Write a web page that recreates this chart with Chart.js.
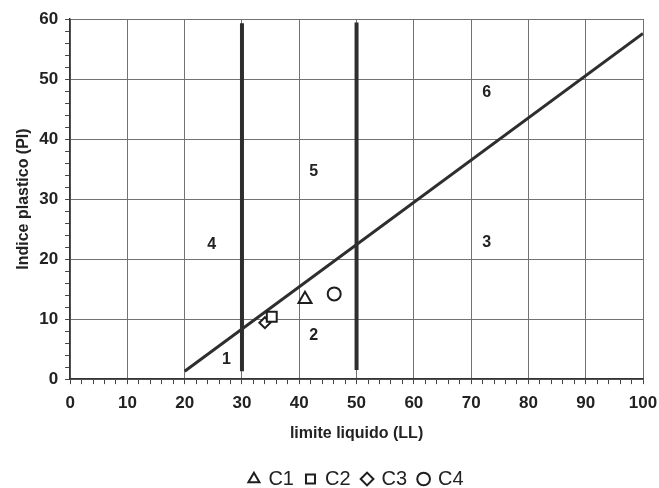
<!DOCTYPE html>
<html><head><meta charset="utf-8">
<script src="https://cdn.jsdelivr.net/npm/chart.js@4.4.0/dist/chart.umd.min.js"></script>
<style>html,body{margin:0;padding:0;background:#fff;}</style>
</head><body>
<canvas id="c" width="659" height="488"></canvas>
<script>
// ---- data ----
const seriesNames = ['C1', 'C2', 'C3', 'C4'];
const seriesLL = [41.0, 35.2, 34.0, 46.1];
const seriesPI = [13.3, 10.4, 9.4, 14.2];
const seriesMarkers = ['triangle', 'rect', 'rectRot', 'circle'];
const seriesRadius = [7.5, 7, 5.5, 6.5];

const aLineLL = [20, 100];
const aLinePI = [1.3, 57.6];
const limit30LL = [30, 30];
const limit30PI = [1.3, 59.3];
const limit50LL = [50, 50];
const limit50PI = [1.5, 59.4];

const zoneLabels = ['1', '2', '3', '4', '5', '6'];
const zoneLL = [27.3, 42.5, 72.7, 24.7, 42.5, 72.7];
const zonePI = [3.2, 7.3, 22.7, 22.4, 34.6, 47.7];

const xTickLabels = [0, 10, 20, 30, 40, 50, 60, 70, 80, 90, 100];
const yTickLabels = [0, 10, 20, 30, 40, 50, 60];

const FONT = "'Liberation Sans', Arial, sans-serif";
Chart.defaults.font.family = FONT;
Chart.defaults.color = '#222';

const toPts = (xs, ys) => xs.map((x, i) => ({x: x, y: ys[i]}));

const datasets = seriesNames.map((n, i) => ({
  label: n,
  data: [{x: seriesLL[i], y: seriesPI[i]}],
  pointStyle: seriesMarkers[i],
  pointRadius: seriesRadius[i],
  borderColor: '#1e1e1e',
  backgroundColor: '#ffffff',
  borderWidth: 2,
  showLine: false
}));
[[aLineLL, aLinePI, 3], [limit30LL, limit30PI, 4], [limit50LL, limit50PI, 4]].forEach(([xs, ys, w], k) => {
  datasets.push({
    label: 'line' + k,
    data: toPts(xs, ys),
    showLine: true,
    pointRadius: 0,
    borderColor: '#2e2e2e',
    borderWidth: w,
    fill: false
  });
});

const zonePlugin = {
  id: 'zones',
  afterDatasetsDraw(chart) {
    const {ctx, scales: {x, y}} = chart;
    ctx.save();
    ctx.font = 'bold 16px ' + FONT;
    ctx.fillStyle = '#222';
    ctx.textAlign = 'center';
    ctx.textBaseline = 'middle';
    zoneLabels.forEach((t, i) => ctx.fillText(t, x.getPixelForValue(zoneLL[i]), y.getPixelForValue(zonePI[i])));
    ctx.restore();
  }
};

const gridCol = (vals) => (c) => (c.tick && vals.includes(c.tick.value)) ? '#727272' : 'rgba(0,0,0,0)';

new Chart(document.getElementById('c'), {
  type: 'scatter',
  data: {datasets},
  options: {
    responsive: false,
    animation: false,
    devicePixelRatio: 1,
    layout: {padding: {left: 12, top: 19, right: 16, bottom: -11}},
    plugins: {
      tooltip: {enabled: false},
      legend: {
        position: 'bottom',
        fullSize: false,
        labels: {
          filter: (item) => item.datasetIndex < seriesNames.length,
          usePointStyle: true,
          boxWidth: 9,
          boxHeight: 9,
          padding: 12,
          color: '#222',
          font: {size: 20}
        }
      }
    },
    scales: {
      x: {
        type: 'linear', min: 0, max: 100,
        ticks: {
          stepSize: 2, autoSkip: false, maxRotation: 0, padding: 1,
          font: {size: 17, weight: 'bold', lineHeight: 2.1}, color: '#222',
          callback: (v) => xTickLabels.includes(v) ? String(v) : ''
        },
        grid: {color: gridCol(xTickLabels), tickColor: '#444', tickLength: 5, lineWidth: 1},
        border: {color: '#333', width: 1.5},
        title: {display: true, text: 'limite liquido (LL)', font: {size: 16, weight: 'bold'}, color: '#222', padding: {top: 2, bottom: 14}}
      },
      y: {
        type: 'linear', min: 0, max: 60,
        ticks: {
          stepSize: 2, autoSkip: false, padding: 7,
          font: {size: 17, weight: 'bold'}, color: '#222',
          callback: (v) => yTickLabels.includes(v) ? String(v) : ''
        },
        grid: {color: gridCol(yTickLabels), tickColor: '#444', tickLength: 5, lineWidth: 1},
        border: {color: '#333', width: 1.5},
        title: {display: true, text: 'Indice plastico (PI)', font: {size: 16, weight: 'bold'}, color: '#222', padding: {top: 2, bottom: -1}}
      }
    }
  },
  plugins: [zonePlugin]
});
</script>
</body></html>
